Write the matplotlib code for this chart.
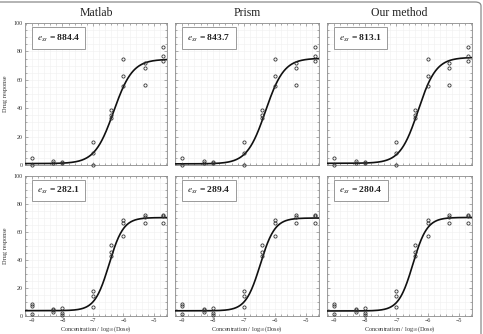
import numpy as np
import matplotlib
matplotlib.use("Agg")
import matplotlib.pyplot as plt
from matplotlib.patches import FancyBboxPatch
from matplotlib.ticker import MultipleLocator

# ---------------- data ----------------
methods = ["Matlab", "Prism", "Our method"]

# top-row dataset (log10 dose, response)
x_top = [-9, -9, -8.3, -8.3, -8, -8, -7, -7, -7,
         -6.4, -6.4, -6.4, -6, -6, -6, -5.3, -5.3, -5.3, -4.7, -4.7, -4.7]
y_top = [5.2, 0.3, 2.8, 1.2, 1.8, 1.2, 16.5, 8.5, 0.0,
         39.0, 35.5, 33.0, 74.5, 62.5, 55.5, 72.0, 68.5, 56.5, 83.0, 77.0, 73.5]

# bottom-row dataset
x_bot = [-9, -9, -9, -8.3, -8.3, -8.3, -8, -8, -8, -7, -7, -7,
         -6.4, -6.4, -6.4, -6, -6, -6, -5.3, -5.3, -5.3, -4.7, -4.7, -4.7]
y_bot = [8.5, 7.0, 1.5, 5.0, 4.0, 3.0, 5.5, 2.0, 0.5, 18.0, 14.5, 6.5,
         51.0, 46.0, 43.0, 68.5, 66.5, 57.5, 72.0, 71.0, 66.5, 72.5, 71.5, 66.5]

# fitted 4-parameter logistic parameters per method: bottom, top, logEC50, hill
top_bottom = [1.0, 0.8, 1.2]
top_top = [74.5, 75.2, 75.8]
top_ec50 = [-6.32, -6.30, -6.30]
top_hill = [1.40, 1.45, 1.50]
top_ess = ["884.4", "843.7", "813.1"]

bot_bottom = [3.8, 3.7, 3.6]
bot_top = [70.3, 70.0, 70.4]
bot_ec50 = [-6.47, -6.47, -6.47]
bot_hill = [1.85, 1.85, 1.90]
bot_ess = ["282.1", "289.4", "280.4"]

x_ticks = [-9, -8, -7, -6, -5]
y_ticks = [0, 20, 40, 60, 80, 100]

# ---------------- style ----------------
plt.rcParams["font.family"] = ["Liberation Serif", "DejaVu Serif"]
plt.rcParams["mathtext.fontset"] = "stix"

W, H = 483, 334
fig = plt.figure(figsize=(W / 100, H / 100), dpi=100)

# outer frame
frame = FancyBboxPatch((-20 / W, -20 / H), (481 + 20) / W, (332 + 20) / H,
                       boxstyle="round,pad=0,rounding_size=0.012",
                       transform=fig.transFigure, fill=False,
                       edgecolor="#8a8a8a", linewidth=0.9, clip_on=False)
fig.patches.append(frame)

col_left = [25, 175, 327]
col_w = [142, 144, 145]
row_top = [23, 176]
row_bot = [165, 316]

title_x = [96, 247, 399]
for j, m in enumerate(methods):
    fig.text(title_x[j] / W, 1 - 13 / H, m, ha="center", va="center",
             fontsize=8.5, color="#222222")


def logistic(x, b, t, c, h):
    return b + (t - b) / (1 + 10 ** ((c - x) * h))


xx = np.linspace(-9.25, -4.55, 300)
spine_col = "#8c8c8c"

for r in range(2):
    for j in range(3):
        l = col_left[j] / W
        w = col_w[j] / W
        b = 1 - row_bot[r] / H
        h = (row_bot[r] - row_top[r]) / H
        ax = fig.add_axes([l, b, w, h])
        if r == 0:
            xs, ys = x_top, y_top
            pars = (top_bottom[j], top_top[j], top_ec50[j], top_hill[j])
            ess = top_ess[j]
        else:
            xs, ys = x_bot, y_bot
            pars = (bot_bottom[j], bot_top[j], bot_ec50[j], bot_hill[j])
            ess = bot_ess[j]

        ax.set_xlim(-9.23, -4.57)
        ax.set_ylim(0, 100)
        ax.xaxis.set_minor_locator(MultipleLocator(0.2))
        ax.yaxis.set_minor_locator(MultipleLocator(5))
        ax.set_xticks(x_ticks)
        ax.set_yticks(y_ticks)
        ax.grid(True, which="both", color="#efefef", linewidth=0.4)
        ax.set_axisbelow(True)
        for s in ax.spines.values():
            s.set_color(spine_col)
            s.set_linewidth(0.6)
        ax.tick_params(which="both", direction="in", top=True, right=True,
                       color=spine_col, width=0.5, labelsize=4.3,
                       labelcolor="#333333", pad=1.5)
        ax.tick_params(which="major", length=2.5)
        ax.tick_params(which="minor", length=1.3)

        ax.plot(xx, logistic(xx, *pars), color="#111111", lw=1.2, zorder=3)
        ax.plot(xs, ys, "o", mfc="none", mec="#333333", ms=2.3, mew=0.6,
                zorder=4, clip_on=False)

        if j != 0:
            ax.set_yticklabels([])
        else:
            ax.set_ylabel("Drug response", fontsize=4.5, color="#333333",
                          labelpad=4)
        if r == 0:
            ax.set_xticklabels([])
        else:
            ax.set_xticklabels([f"\u2212{abs(t)}" for t in x_ticks])
            ax.set_xlabel(r"Concentration / log$_{10}$(Dose)", fontsize=4.5,
                          color="#333333", labelpad=1)

        ax.text(0.085, 0.895, r"$e_{ss}$ = " + ess, transform=ax.transAxes,
                fontsize=6.8, fontweight="bold", color="#222222",
                ha="left", va="center", zorder=6,
                bbox=dict(boxstyle="square,pad=0.55", fc="white",
                          ec="#9a9a9a", lw=0.7))

fig.savefig("out.png", dpi=100)
